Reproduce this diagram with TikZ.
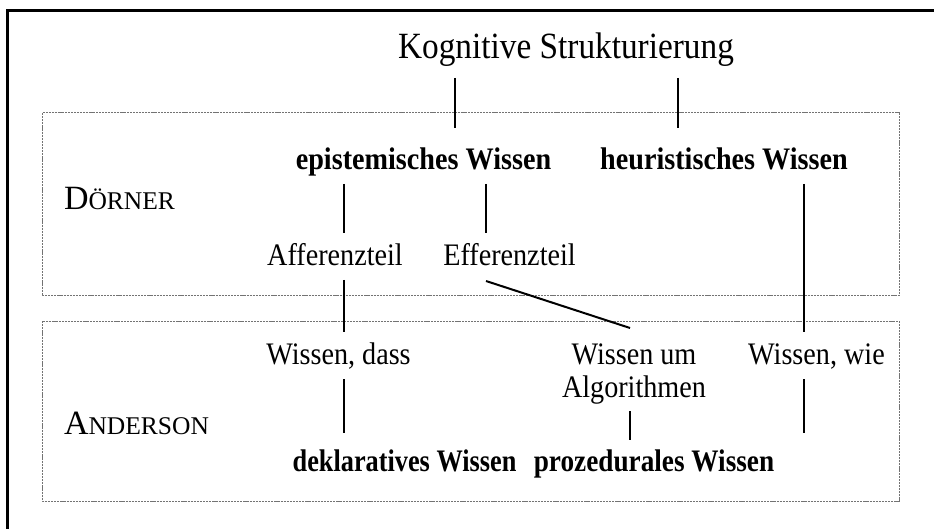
\documentclass[tikz,border=0pt]{standalone}
\usepackage{fontspec}
\setmainfont{Liberation Serif}
\usepackage{graphicx}
\usetikzlibrary{calc}

% condensed setting used for the labels
\newcommand{\cond}[2][0.9]{\scalebox{#1}[1]{#2}}
% hand-made small capitals: large initial, smaller capitals after it
\newcommand{\smallcapsname}[2]{{\fontsize{34}{38}\selectfont #1\fontsize{25.5}{30}\selectfont #2}}

\tikzset{
  label/.style={inner sep=0pt, outer sep=0pt, anchor=base, font=\fontsize{31.3}{33}\selectfont},
  boldlabel/.style={label, font=\fontsize{31.3}{33}\selectfont\bfseries},
  title/.style={label, font=\fontsize{37}{40}\selectfont},
  group/.style={draw=black!55, line width=1pt, dash pattern=on 2.2pt off 0.9pt},
  link/.style={draw=black, line width=2pt},
  frameline/.style={draw=black, line width=3pt}
}

\begin{document}
\begin{tikzpicture}[x=1pt, y=-1pt]
\useasboundingbox (0,0) rectangle (934,529);
\fill[white] (0,0) rectangle (934,529);

% outer frame (only its top and left sides fall on the page)
\draw[frameline] (7.5,545) -- (7.5,11) -- (950,11);

% the two groups
\draw[group] (42,113) rectangle (899,296);
\draw[group] (42,321) rectangle (899,501);

% column positions of the connectors
\coordinate (cA) at (344,0);
\coordinate (cB) at (455,0);
\coordinate (cC) at (486,0);
\coordinate (cD) at (630,0);
\coordinate (cE) at (678,0);
\coordinate (cF) at (804,0);

% labels
\node[title] (kog) at (566,59) {\cond{Kognitive Strukturierung}};

\node[label, anchor=base west] (doe) at (64,210) {\smallcapsname{D}{ÖRNER}};
\node[boldlabel] (epi) at (423.5,170) {\cond{epistemisches Wissen}};
\node[boldlabel] (heu) at (724,170) {\cond{heuristisches Wissen}};
\node[label] (aff) at (335,266) {\cond{Afferenzteil}};
\node[label] (eff) at (509.5,266) {\cond{Efferenzteil}};

\node[label, anchor=base west] (and) at (64,434) {\smallcapsname{A}{NDERSON}};
\node[label] (dass) at (338.5,364) {\cond{Wissen, dass}};
\node[label] (alg) at (634,364) {\cond{\begin{tabular}[t]{@{}c@{}}Wissen um\\Algorithmen\end{tabular}}};
\node[label] (wie) at (816.5,364) {\cond{Wissen, wie}};
\node[boldlabel] (dek) at (404.5,471) {\cond[0.84]{deklaratives Wissen}};
\node[boldlabel] (pro) at (654,471) {\cond[0.87]{prozedurales Wissen}};

% connectors
\draw[link] ($(kog.base -| cB)+(0,19)$) -- ($(epi.base -| cB)+(0,-42)$);
\draw[link] ($(kog.base -| cE)+(0,19)$) -- ($(heu.base -| cE)+(0,-42)$);
\draw[link] ($(epi.base -| cA)+(0,14)$) -- ($(aff.base -| cA)+(0,-33)$);
\draw[link] ($(epi.base -| cC)+(0,14)$) -- ($(eff.base -| cC)+(0,-33)$);
\draw[link] ($(heu.base -| cF)+(0,14)$) -- ($(wie.base -| cF)+(0,-32)$);
\draw[link] ($(aff.base -| cA)+(0,14)$) -- ($(dass.base -| cA)+(0,-32)$);
\draw[link] ($(eff.base -| cC)+(0,15)$) -- ($(alg.base -| cD)+(0,-36)$);
\draw[link] ($(dass.base -| cA)+(0,15)$) -- ($(dek.base -| cA)+(0,-38)$);
\draw[link] ($(alg.base -| cD)+(0,47)$) -- ($(pro.base -| cD)+(0,-31)$);
\draw[link] ($(wie.base -| cF)+(0,15)$) -- ($(pro.base -| cF)+(0,-38)$);
\end{tikzpicture}
\end{document}
